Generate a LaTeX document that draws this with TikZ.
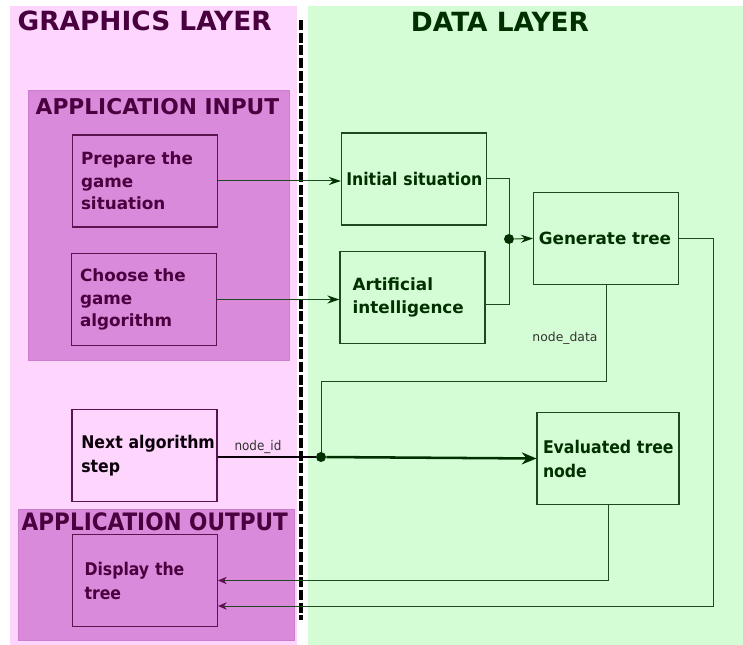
\documentclass[tikz,border=0pt]{standalone}
\usepackage{fontspec}
\setmainfont{DejaVu Sans}
\newfontfamily\condfont{DejaVu Sans Condensed}
\usetikzlibrary{arrows.meta}
\hyphenpenalty=10000
\exhyphenpenalty=10000

\definecolor{pinkbg}{RGB}{253,213,253}
\definecolor{orchidbox}{RGB}{218,138,218}
\definecolor{orchidedge}{RGB}{205,125,205}
\definecolor{greenbg}{RGB}{213,253,213}
\definecolor{purpletext}{RGB}{72,0,62}
\definecolor{purpleline}{RGB}{90,20,80}
\definecolor{greentext}{RGB}{0,48,0}
\definecolor{greenline}{RGB}{30,72,30}

\begin{document}
\begin{tikzpicture}[x=0.75pt,y=-0.75pt,
    boxfont/.style={font=\bfseries\fontsize{12.6}{17}\selectfont},
    condbox/.style={font=\condfont\bfseries\fontsize{13.1}{18}\selectfont},
    gbox/.style={boxfont,draw=purpleline,line width=0.8pt,minimum width=108.75pt,
        minimum height=69pt,text width=96pt,inner xsep=6.4pt,align=left,text=purpletext},
    dbox/.style={boxfont,draw=greenline,line width=0.8pt,minimum width=108.75pt,
        minimum height=69pt,text width=103pt,inner xsep=2.9pt,align=left,text=greentext},
    layertitle/.style={font=\bfseries\fontsize{19.8}{21}\selectfont},
    grouptitle/.style={font=\bfseries\fontsize{16.3}{18}\selectfont,text=purpletext,anchor=west},
    wire/.style={draw=greenline,line width=0.75pt},
    arrowwire/.style={wire,-{Stealth[length=9pt,width=6pt,color=greentext]}},
    backwire/.style={wire,-{Stealth[length=6.5pt,width=5.5pt,inset=2pt,color=purpleline]}},
    joint/.style={circle,fill=greentext,inner sep=0pt,minimum size=7.5pt},
    smalllabel/.style={font=\fontsize{9.3}{10}\selectfont,text=black!80}]
    \def\layertop{6}
    \def\layerbot{645}
    \def\splitx{301}

    \useasboundingbox (0,0) rectangle (743,645);

    % Layer backgrounds
    \fill[pinkbg] (10,\layertop) rectangle (297,\layerbot);
    \fill[greenbg] (308,\layertop) rectangle (743,\layerbot);
    \draw[black,line width=2.4pt,dash pattern=on 7.5pt off 2pt] (\splitx,20) -- (\splitx,620);

    \node[layertitle,text=purpletext,anchor=west] (graphicstitle) at (13,21) {GRAPHICS LAYER};
    \node[layertitle,text=greentext] (datatitle) at (500,22) {DATA LAYER};

    % Application groups
    \filldraw[fill=orchidbox,draw=orchidedge] (28,90) rectangle (289,360);
    \node[grouptitle] (inputtitle) at (31,107) {APPLICATION INPUT};
    \filldraw[fill=orchidbox,draw=orchidedge] (18,509) rectangle (294,640);
    \node[grouptitle,font=\condfont\bfseries\fontsize{18}{19}\selectfont] (outputtitle) at (17,522) {APPLICATION OUTPUT};

    % Graphics layer boxes
    \node[gbox] (prep) at (145,181) {Prepare~the\\game\\situation};
    \node[gbox] (choose) at (144,299.5) {Choose~the\\game\\algorithm};
    \node[gbox,condbox,fill=pinkbg,text=black!85!purpletext,inner xsep=7pt,text width=94.75pt] (next) at (144.5,455.5) {Next~algorithm\\step};
    \node[gbox,condbox,inner xsep=9pt,text width=90.75pt] (disp) at (145,580.5) {Display~the\\tree};

    % Data layer boxes
    \node[dbox,condbox,inner xsep=3.6pt,text width=101.5pt] (init) at (414,179) {Initial~situation};
    \node[dbox,inner xsep=9.5pt,text width=89.75pt] (ai) at (412.5,297.5) {Artificial\\intelligence};
    \node[dbox,inner xsep=4pt,text width=100.75pt] (gen) at (606,238.5) {Generate~tree};
    \node[dbox,condbox,minimum width=106.5pt,inner xsep=4.5pt,text width=97.5pt] (eval) at (608,458.5) {Evaluated~tree\\node};

    % Inputs into the data layer
    \draw[arrowwire] (prep.east) -- (prep.east -| init.west);
    \draw[arrowwire] (choose.east) -- (choose.east -| ai.west);

    \node[joint] (jn) at (509,239) {};
    \draw[wire] (init.east) -| (jn);
    \draw[wire] ([yshift=-5.5pt]ai.east) -| (jn);
    \draw[arrowwire] (jn) -- (gen.west);

    % Tree node loop
    \coordinate (ndturn) at (321,382);
    \node[joint] (nid) at (321,457) {};
    \draw[wire] (gen.south) |- (ndturn) -- (nid);
    \node[smalllabel] (ndlabel) at (565,338) {node\_data};
    \draw[line width=0.9pt,draw=black!85!purpletext] (next.east |- nid) -- (nid);
    \node[smalllabel,font=\condfont\fontsize{10}{10}\selectfont] (nidlabel) at (258,447) {node\_id};
    \draw[draw=greentext,line width=1.9pt,-{Stealth[length=11pt,width=9pt]}] (nid) -- (eval.west);

    % Back to the display
    \coordinate (outturn) at (713,606);
    \draw[backwire] (eval.south) |- (disp.east);
    \draw[backwire] (gen.east) -| (outturn) -- (outturn -| disp.east);
\end{tikzpicture}
\end{document}
